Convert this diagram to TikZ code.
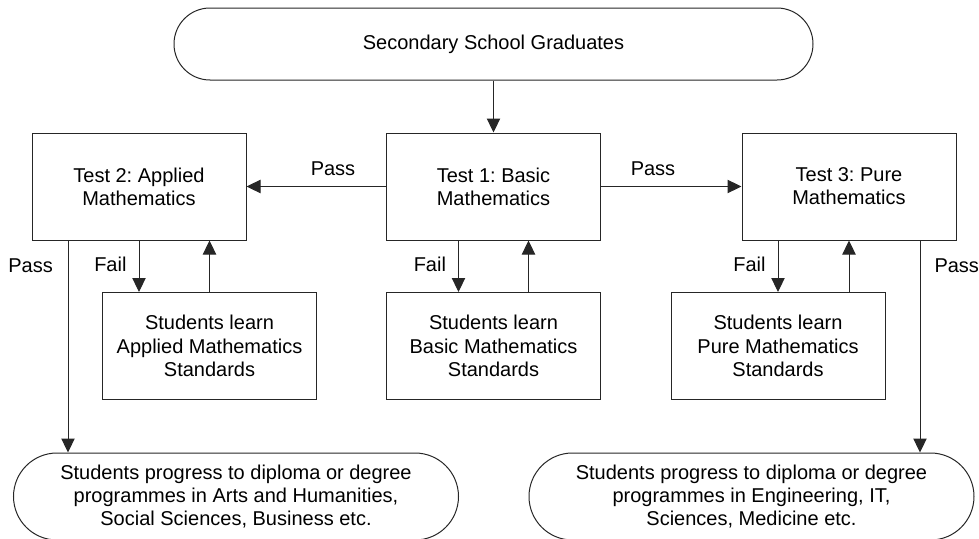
\documentclass[tikz,border=0pt]{standalone}
\usepackage{fontspec}
\setmainfont{Liberation Sans}
\usetikzlibrary{shapes.misc,arrows.meta}
\frenchspacing
\begin{document}
\begin{tikzpicture}[x=0.75pt,y=-0.75pt,
  every node/.style={font=\fontsize{15}{17.4}\selectfont},
  box/.style={draw=black!85, line width=0.75pt, minimum width=160.5pt, minimum height=80.25pt, inner sep=0pt, align=center},
  term/.style={draw=black!85, line width=0.75pt, rounded rectangle, inner sep=0pt, align=center},
  conn/.style={draw=black!85, line width=0.75pt, -{Triangle[length=10.5pt,width=10pt]}},
  plain/.style={draw=black!85, line width=0.75pt},
  lbl/.style={inner sep=0pt}]
\useasboundingbox (0,0) rectangle (979,539);
% nodes
\node[term, minimum width=479.25pt, minimum height=54pt] (top) at (493.5,44) {Secondary School Graduates};
\node[box] (T2) at (139,186.5) {Test 2: Applied\\Mathematics};
\node[box] (T1) at (493.5,186.5) {Test 1: Basic\\Mathematics};
\node[box] (T3) at (849,186.5) {Test 3: Pure\\Mathematics};
\node[box] (L2) at (209.5,346) {Students learn\\Applied Mathematics\\Standards};
\node[box] (L1) at (493.5,346) {Students learn\\Basic Mathematics\\Standards};
\node[box] (L3) at (778,346) {Students learn\\Pure Mathematics\\Standards};
\node[term, minimum width=333.75pt, minimum height=65.25pt] (B1) at (236,496.5) {Students progress to diploma or degree\\programmes in Arts and Humanities,\\Social Sciences, Business etc.};
\node[term, minimum width=333.75pt, minimum height=65.25pt] (B3) at (751.5,496.5) {Students progress to diploma or degree\\programmes in Engineering, IT,\\Sciences, Medicine etc.};
% connectors
\draw[conn] (top.south) -- (T1.north);
\draw[conn] (T1.west) -- node[lbl, pos=0.38, above=8.5pt, anchor=base]{Pass} (T2.east);
\draw[conn] (T1.east) -- node[lbl, pos=0.37, above=8.5pt, anchor=base]{Pass} (T3.west);
% Test 2 loop
\draw[conn] (T2.south) -- node[lbl, pos=0.6, anchor=base east, xshift=-9pt]{Fail} (T2.south |- L2.north);
\draw[conn] (L2.north) -- (L2.north |- T2.south);
% Test 1 loop
\draw[conn] ([xshift=-26.25pt]T1.south) -- node[lbl, pos=0.6, anchor=base east, xshift=-9pt]{Fail} ([xshift=-26.25pt]L1.north);
\draw[conn] ([xshift=26.25pt]L1.north) -- ([xshift=26.25pt]T1.south);
% Test 3 loop
\draw[conn] (L3.north |- T3.south) -- node[lbl, pos=0.6, anchor=base east, xshift=-9pt]{Fail} (L3.north);
\draw[conn] (T3.south |- L3.north) -- (T3.south);
% Pass to programmes
\draw[conn] ([xshift=-53.25pt]T2.south) -- node[lbl, pos=0.151, anchor=base east, xshift=-11pt]{Pass} ([xshift=-53.25pt]T2.south |- B1.north);
\draw[conn] ([xshift=53.25pt]T3.south) -- node[lbl, pos=0.151, anchor=base west, xshift=10.5pt]{Pass} ([xshift=53.25pt]T3.south |- B3.north);
\end{tikzpicture}
\end{document}
